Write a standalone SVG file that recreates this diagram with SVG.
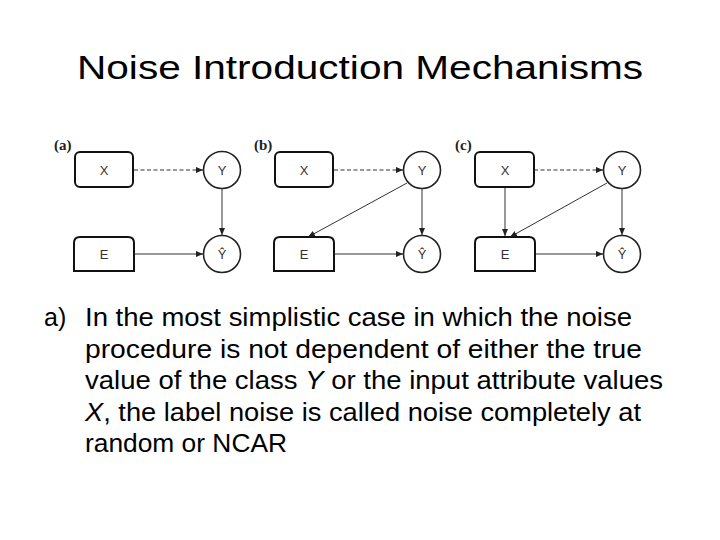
<svg xmlns="http://www.w3.org/2000/svg" width="720" height="540" viewBox="0 0 720 540">
<style>
.title{font-family:"Liberation Sans",Arial,sans-serif;font-size:34px;fill:#000}
.body{font-family:"Liberation Sans",Arial,sans-serif;font-size:25px;fill:#000}
.pl{font-family:"Liberation Serif","Times New Roman",serif;font-size:15px;font-weight:bold;fill:#222}
.nl{font-family:"Liberation Sans",Arial,sans-serif;font-size:13px;fill:#333;text-anchor:middle}
.box{fill:#fff;stroke:#111;stroke-width:2}
.circ{fill:#fff;stroke:#222;stroke-width:1.6}
.edge{stroke:#333;stroke-width:1;fill:none;marker-end:url(#ah)}
.dash{stroke-dasharray:4,2.5}
</style>
<defs>
<marker id="ah" markerWidth="8" markerHeight="8" refX="7" refY="4" orient="auto" markerUnits="userSpaceOnUse">
<path d="M0,1 L7,4 L0,7 Z" fill="#222"/>
</marker>
<path id="ebox" d="M0,34 L0,6 Q0,0 6,0 L54,0 Q60,0 60,6 L60,34 Z"/>
</defs>
<rect width="720" height="540" fill="#fff"/>
<text class="title" x="77" y="79" textLength="566" lengthAdjust="spacingAndGlyphs">Noise Introduction Mechanisms</text>

<g id="connectors">
<line class="edge dash" x1="134" y1="170" x2="203" y2="170"/>
<line class="edge" x1="222" y1="188.5" x2="222" y2="235"/>
<line class="edge" x1="134" y1="254" x2="203" y2="254"/>
<line class="edge dash" x1="334" y1="170" x2="403" y2="170"/>
<line class="edge" x1="422" y1="188.5" x2="422" y2="235"/>
<line class="edge" x1="334" y1="254" x2="403" y2="254"/>
<line class="edge" x1="407" y1="183" x2="308" y2="237"/>
<line class="edge dash" x1="534" y1="170" x2="603" y2="170"/>
<line class="edge" x1="622" y1="188.5" x2="622" y2="235"/>
<line class="edge" x1="534" y1="254" x2="603" y2="254"/>
<line class="edge" x1="607" y1="183" x2="510" y2="237"/>
<line class="edge" x1="505" y1="188" x2="505" y2="236"/>
</g>

<g id="panel-a">
<text class="pl" x="54" y="150">(a)</text>
<g id="a-X"><rect class="box" x="75" y="152" width="58" height="35" rx="5"/><text class="nl" x="104" y="174.5">X</text></g>
<g id="a-Y"><circle class="circ" cx="222" cy="170" r="18.5"/><text class="nl" x="222" y="174.5">Y</text></g>
<g id="a-E"><use href="#ebox" class="box" x="74" y="237"/><text class="nl" x="104" y="258.5">E</text></g>
<g id="a-Yhat"><circle class="circ" cx="222" cy="254" r="18.5"/><text class="nl" x="222" y="259">Ŷ</text></g>
</g>

<g id="panel-b">
<text class="pl" x="254" y="150">(b)</text>
<g id="b-X"><rect class="box" x="275" y="152" width="58" height="35" rx="5"/><text class="nl" x="304" y="174.5">X</text></g>
<g id="b-Y"><circle class="circ" cx="422" cy="170" r="18.5"/><text class="nl" x="422" y="174.5">Y</text></g>
<g id="b-E"><use href="#ebox" class="box" x="274" y="237"/><text class="nl" x="304" y="258.5">E</text></g>
<g id="b-Yhat"><circle class="circ" cx="422" cy="254" r="18.5"/><text class="nl" x="422" y="259">Ŷ</text></g>
</g>

<g id="panel-c">
<text class="pl" x="455" y="150">(c)</text>
<g id="c-X"><rect class="box" x="475" y="152" width="59" height="35" rx="5"/><text class="nl" x="505" y="174.5">X</text></g>
<g id="c-Y"><circle class="circ" cx="622" cy="170" r="18.5"/><text class="nl" x="622" y="174.5">Y</text></g>
<g id="c-E"><use href="#ebox" class="box" x="475" y="237"/><text class="nl" x="505" y="258.5">E</text></g>
<g id="c-Yhat"><circle class="circ" cx="622" cy="254" r="18.5"/><text class="nl" x="622" y="259">Ŷ</text></g>
</g>

<g id="body-text">
<text class="body" x="44" y="326">a)</text>
<text class="body" x="85" y="326" textLength="547" lengthAdjust="spacingAndGlyphs">In the most simplistic case in which the noise</text>
<text class="body" x="85" y="357.5" textLength="557" lengthAdjust="spacingAndGlyphs">procedure is not dependent of either the true</text>
<text class="body" x="85" y="389" textLength="578" lengthAdjust="spacingAndGlyphs">value of the class <tspan font-style="italic">Y</tspan> or the input attribute values</text>
<text class="body" x="85" y="420.5" textLength="556" lengthAdjust="spacingAndGlyphs"><tspan font-style="italic">X</tspan>, the label noise is called noise completely at</text>
<text class="body" x="85" y="452" textLength="202" lengthAdjust="spacingAndGlyphs">random or NCAR</text>
</g>
</svg>
